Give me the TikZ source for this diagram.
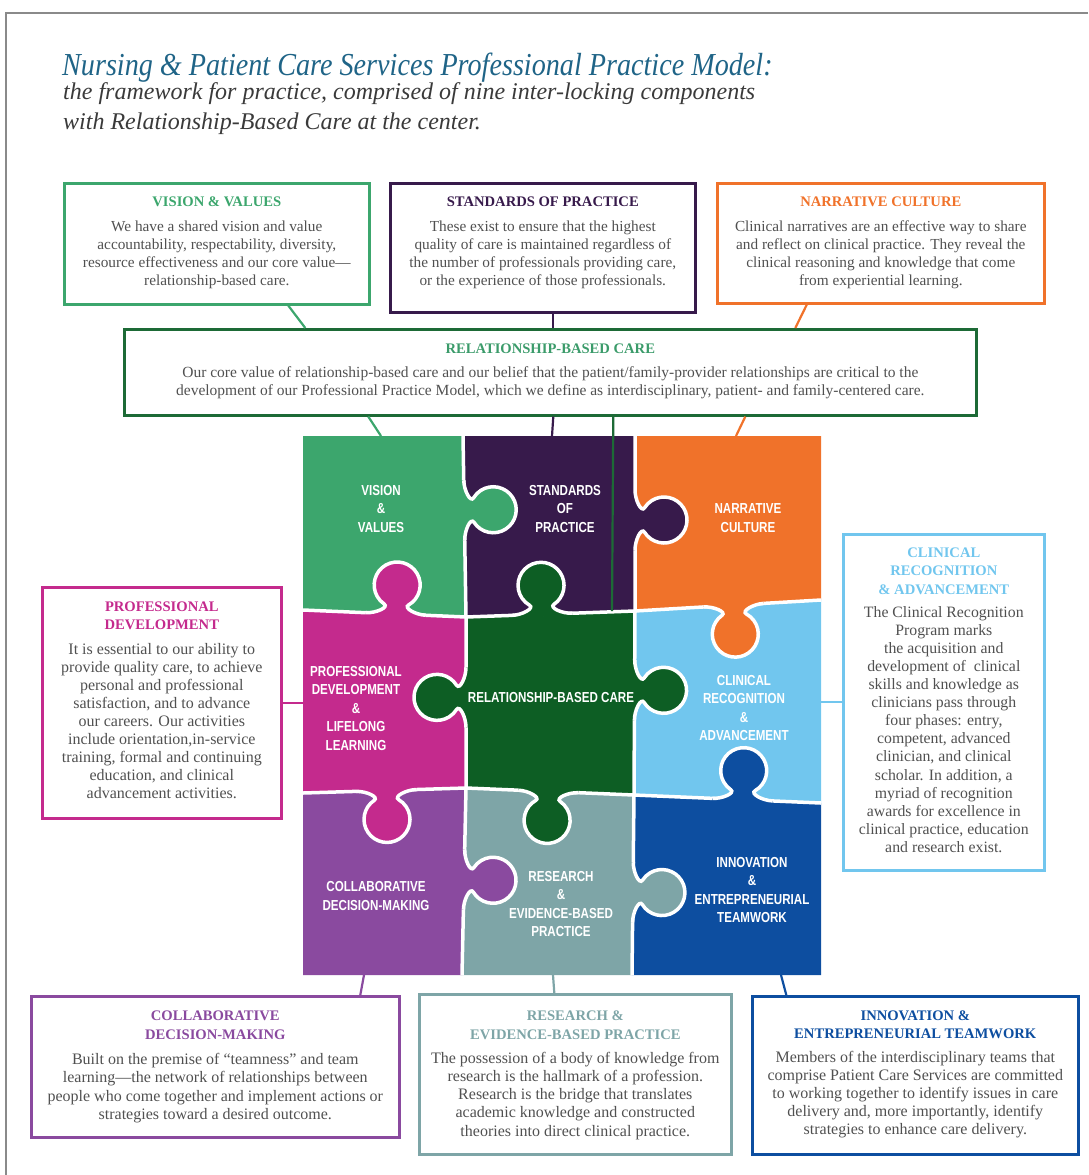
\documentclass[tikz,border=0pt]{standalone}
\usepackage{fontspec}
\setmainfont{Liberation Serif}
\newfontfamily\piecefont[FakeStretch=0.8]{Liberation Sans}
\newfontfamily\titlefont[FakeStretch=0.88]{Liberation Serif}
\usetikzlibrary{calc}

\definecolor{titleblue}{HTML}{1F6487}
\definecolor{subgray}{HTML}{3A3A3A}
\definecolor{bodygray}{HTML}{505050}
\definecolor{framegray}{HTML}{8A8A8A}
\definecolor{vvgreen}{HTML}{3CA66D}
\definecolor{spviolet}{HTML}{371A4B}
\definecolor{ncorange}{HTML}{F0722A}
\definecolor{rbcgreen}{HTML}{0D5E24}
\definecolor{rbcline}{HTML}{1D6A36}
\definecolor{rbchead}{HTML}{3B9B6A}
\definecolor{pdmagenta}{HTML}{C42A8D}
\definecolor{crblue}{HTML}{71C6EE}
\definecolor{cdpurple}{HTML}{8A4A9F}
\definecolor{rsteal}{HTML}{7EA5A7}
\definecolor{ieblue}{HTML}{0D4EA0}

\tikzset{
  infobox/.style={draw=#1, line width=2.6pt, inner sep=0pt, anchor=north west},
  boxtext/.style={align=center, inner sep=0pt, anchor=north, text=bodygray,
    font=\fontsize{15.3}{18}\selectfont},
  link/.style={draw=#1, line width=2.2pt},
  cut/.style={white, line width=3.5pt},
  piecelabel/.style={align=center, text=white, inner sep=0pt,
    font=\piecefont\bfseries\fontsize{14.5}{18.5}\selectfont},
  % jigsaw tab, sitting on the edge and bulging to the right of the path
  pics/tab/.style={code={
    \fill[#1] (-30,-2.5) -- (-30,0) .. controls (-20,0) and (-7.1,6.3) .. (-12.2,9.5)
      arc[start angle=238, end angle=-58, radius=23]
      .. controls (7.1,6.3) and (20,0) .. (30,0) -- (30,-2.5) -- cycle;
    \draw[cut] (-30,0) .. controls (-20,0) and (-7.1,6.3) .. (-12.2,9.5)
      arc[start angle=238, end angle=-58, radius=23]
      .. controls (7.1,6.3) and (20,0) .. (30,0);
  }}
}
\newcommand{\boxhead}[2]{{\color{#1}\bfseries\fontsize{14.6}{18}\selectfont #2}}

\begin{document}
\begin{tikzpicture}[x=1pt,y=-1pt]
\useasboundingbox (0,0) rectangle (1088,1175);

% frame
\draw[framegray, line width=2pt] (1088,13) -- (6,13) -- (6,1175);

% heading
\node[anchor=base west, inner sep=0pt, text=titleblue, font=\titlefont\itshape\fontsize{32}{38}\selectfont] (title) at (62,75)
  {Nursing \& Patient Care Services Professional Practice Model:};
\node[anchor=base west, inner sep=0pt, text=subgray, font=\itshape\fontsize{24}{30}\selectfont] (subtitle) at (63,99)
  {the framework for practice, comprised of nine inter-locking components};
\node[anchor=base west, inner sep=0pt, text=subgray, font=\itshape\fontsize{24}{30}\selectfont] (subtitle2) at (63,129)
  {with Relationship-Based Care at the center.};

% puzzle grid corners
\coordinate (g00) at (303,436); \coordinate (g10) at (463,436); \coordinate (g20) at (635,436); \coordinate (g30) at (821,436);
\coordinate (g01) at (303,610); \coordinate (g11) at (466,617); \coordinate (g21) at (635,611); \coordinate (g31) at (821,600);
\coordinate (g02) at (303,793); \coordinate (g12) at (466,788); \coordinate (g22) at (634,795); \coordinate (g32) at (821,803);
\coordinate (g03) at (303,975); \coordinate (g13) at (462,975); \coordinate (g23) at (632,975); \coordinate (g33) at (821,975);

% pieces
\foreach \c/\a/\b/\e/\d in {vvgreen/g00/g10/g11/g01, spviolet/g10/g20/g21/g11, ncorange/g20/g30/g31/g21,
    pdmagenta/g01/g11/g12/g02, rbcgreen/g11/g21/g22/g12, crblue/g21/g31/g32/g22,
    cdpurple/g02/g12/g13/g03, rsteal/g12/g22/g23/g13, ieblue/g22/g32/g33/g23}
  \fill[\c] (\a) -- (\b) -- (\e) -- (\d) -- cycle;

\draw[cut] (g10) -- (g11) -- (g12) -- (g13);
\draw[cut] (g20) -- (g21) -- (g22) -- (g23);
\draw[cut] (g01) -- (g11) -- (g21) -- (g31);
\draw[cut] (g02) -- (g12) -- (g22) -- (g32);

% tabs
\path (g11) -- (g10) pic[pos=0.59, sloped, allow upside down] {tab=vvgreen};
\path (g21) -- (g20) pic[pos=0.52, sloped, allow upside down] {tab=spviolet};
\path (g11) -- (g01) pic[pos=0.43, sloped, allow upside down] {tab=pdmagenta};
\path (g21) -- (g11) pic[pos=0.55, sloped, allow upside down] {tab=rbcgreen};
\path (g21) -- (g31) pic[pos=0.53, sloped, allow upside down] {tab=ncorange};
\path (g11) -- (g12) pic[pos=0.47, sloped, allow upside down] {tab=rbcgreen};
\path (g22) -- (g21) pic[pos=0.57, sloped, allow upside down] {tab=rbcgreen};
\path (g02) -- (g12) pic[pos=0.51, sloped, allow upside down] {tab=pdmagenta};
\path (g12) -- (g22) pic[pos=0.49, sloped, allow upside down] {tab=rbcgreen};
\path (g32) -- (g22) pic[pos=0.42, sloped, allow upside down] {tab=ieblue};
\path (g13) -- (g12) pic[pos=0.51, sloped, allow upside down] {tab=cdpurple};
\path (g23) -- (g22) pic[pos=0.46, sloped, allow upside down] {tab=rsteal};

% piece labels
\node[piecelabel] (vv-lbl) at (381,509) {VISION\\\&\\VALUES};
\node[piecelabel] (sp-lbl) at (565,509) {STANDARDS\\OF\\PRACTICE};
\node[piecelabel] (nc-lbl) at (748,518) {NARRATIVE\\CULTURE};
\node[piecelabel] (pd-lbl) at (356,708) {PROFESSIONAL\\DEVELOPMENT\\\&\\LIFELONG\\LEARNING};
\node[piecelabel] (rbc-lbl) at (551,697) {RELATIONSHIP-BASED CARE};
\node[piecelabel] (cr-lbl) at (744,708) {CLINICAL\\RECOGNITION\\\&\\ADVANCEMENT};
\node[piecelabel] (cd-lbl) at (376,896) {COLLABORATIVE\\DECISION-MAKING};
\node[piecelabel] (rs-lbl) at (561,904) {RESEARCH\\\&\\EVIDENCE-BASED\\PRACTICE};
\node[piecelabel] (ie-lbl) at (752,890) {INNOVATION\\\&\\ENTREPRENEURIAL\\TEAMWORK};

% text boxes
\node[infobox=vvgreen, minimum width=305pt, minimum height=121pt] (vv) at (63,182) {};
\node[infobox=spviolet, minimum width=305pt, minimum height=129pt] (sp) at (389,182) {};
\node[infobox=ncorange, minimum width=327pt, minimum height=120pt] (nc) at (716,182) {};
\node[infobox=rbcline, minimum width=852pt, minimum height=86pt] (rbc) at (123,328) {};
\node[infobox=pdmagenta, minimum width=239pt, minimum height=231pt] (pd) at (41,586) {};
\node[infobox=crblue, minimum width=201pt, minimum height=336pt] (cr) at (842,533) {};
\node[infobox=cdpurple, minimum width=368pt, minimum height=141pt] (cd) at (30,995) {};
\node[infobox=rsteal, minimum width=312pt, minimum height=160pt] (rs) at (418,993) {};
\node[infobox=ieblue, minimum width=326pt, minimum height=158pt] (ie) at (751,995) {};

\node[boxtext] (vv-txt) at ($(vv.north)+(0,15)$) {\boxhead{vvgreen}{VISION \& VALUES}\\[7pt]
  We have a shared vision and value\\accountability, respectability, diversity,\\
  resource effectiveness and our core value—\\relationship-based care.};
\node[boxtext] (sp-txt) at ($(sp.north)+(0,15)$) {\boxhead{spviolet}{STANDARDS OF PRACTICE}\\[7pt]
  These exist to ensure that the highest\\quality of care is maintained regardless of\\
  the number of professionals providing care,\\or the experience of those professionals.};
\node[boxtext] (nc-txt) at ($(nc.north)+(0,15)$) {\boxhead{ncorange}{NARRATIVE CULTURE}\\[7pt]
  Clinical narratives are an effective way to share\\and reflect on clinical practice. They reveal the\\
  clinical reasoning and knowledge that come\\from experiential learning.};
\node[boxtext, font=\fontsize{15.5}{18}\selectfont] (rbc-txt) at ($(rbc.north)+(0,16)$) {\boxhead{rbchead}{RELATIONSHIP-BASED CARE}\\[6pt]
  Our core value of relationship-based care and our belief that the patient/family-provider relationships are critical to the\\
  development of our Professional Practice Model, which we define as interdisciplinary, patient- and family-centered care.};
\node[boxtext, font=\fontsize{16}{18}\selectfont] (pd-txt) at ($(pd.north)+(0,16)$) {\boxhead{pdmagenta}{PROFESSIONAL}\\
  \boxhead{pdmagenta}{DEVELOPMENT}\\[6.5pt]
  It is essential to our ability to\\provide quality care, to achieve\\personal and professional\\
  satisfaction, and to advance\\our careers. Our activities\\include orientation,in-service\\
  training, formal and continuing\\education, and clinical\\advancement activities.};
\node[boxtext, font=\fontsize{15.8}{18.1}\selectfont] (cr-txt) at ($(cr.north)+(0,15)$) {\boxhead{crblue}{CLINICAL}\\
  \boxhead{crblue}{RECOGNITION}\\\boxhead{crblue}{\& ADVANCEMENT}\\[5pt]
  The Clinical Recognition\\Program marks\\the acquisition and\\development of~ clinical\\
  skills and knowledge as\\clinicians pass through\\four phases: entry,\\competent, advanced\\
  clinician, and clinical\\scholar. In addition, a\\myriad of recognition\\awards for excellence in\\
  clinical practice, education\\and research exist.};
\node[boxtext, font=\fontsize{16}{18.6}\selectfont] (cd-txt) at ($(cd.north)+(0,16)$) {\boxhead{cdpurple}{COLLABORATIVE}\\
  \boxhead{cdpurple}{DECISION-MAKING}\\[6pt]
  Built on the premise of “teamness” and team\\learning—the network of relationships between\\
  people who come together and implement actions or\\strategies toward a desired outcome.};
\node[boxtext, font=\fontsize{16}{18.3}\selectfont] (rs-txt) at ($(rs.north)+(0,18)$) {\boxhead{rsteal}{RESEARCH \&}\\
  \boxhead{rsteal}{EVIDENCE-BASED PRACTICE}\\[5.5pt]
  The possession of a body of knowledge from\\research is the hallmark of a profession.\\
  Research is the bridge that translates\\academic knowledge and constructed\\
  theories into direct clinical practice.};
\node[boxtext, font=\fontsize{16}{18}\selectfont] (ie-txt) at ($(ie.north)+(0,16)$) {\boxhead{ieblue}{INNOVATION \&}\\
  \boxhead{ieblue}{ENTREPRENEURIAL TEAMWORK}\\[6pt]
  Members of the interdisciplinary teams that\\comprise Patient Care Services are committed\\
  to working together to identify issues in care\\delivery and, more importantly, identify\\
  strategies to enhance care delivery.};

% connectors
\draw[link=vvgreen] ([xshift=71.5pt]vv.south) -- ([xshift=-245pt]rbc.north);
\draw[link=spviolet] ([xshift=10.5pt]sp.south) -- ([xshift=3pt]rbc.north);
\draw[link=ncorange] ([xshift=-74pt]nc.south) -- ([xshift=245pt]rbc.north);
\draw[link=vvgreen] ([xshift=-182pt]rbc.south) -- ([xshift=78pt]g00);
\draw[link=spviolet] ([xshift=3pt]rbc.south) -- ([xshift=249pt]g00);
\draw[link=rbcline] ([xshift=63pt]rbc.south) -- ([xshift=-23pt]g21);
\draw[link=ncorange] ([xshift=195pt]rbc.south) -- ([xshift=433pt]g00);
\draw[link=pdmagenta] (pd.east) -- (pd.east -| g00);
\draw[link=crblue] (cr.west) -- (cr.west -| g30);
\draw[link=cdpurple] ([xshift=145pt]cd.north) -- ([xshift=61pt]g03);
\draw[link=rsteal] ([xshift=-21pt]rs.north) -- ([xshift=250pt]g03);
\draw[link=ieblue] ([xshift=-129pt]ie.north) -- ([xshift=478pt]g03);
\end{tikzpicture}
\end{document}
